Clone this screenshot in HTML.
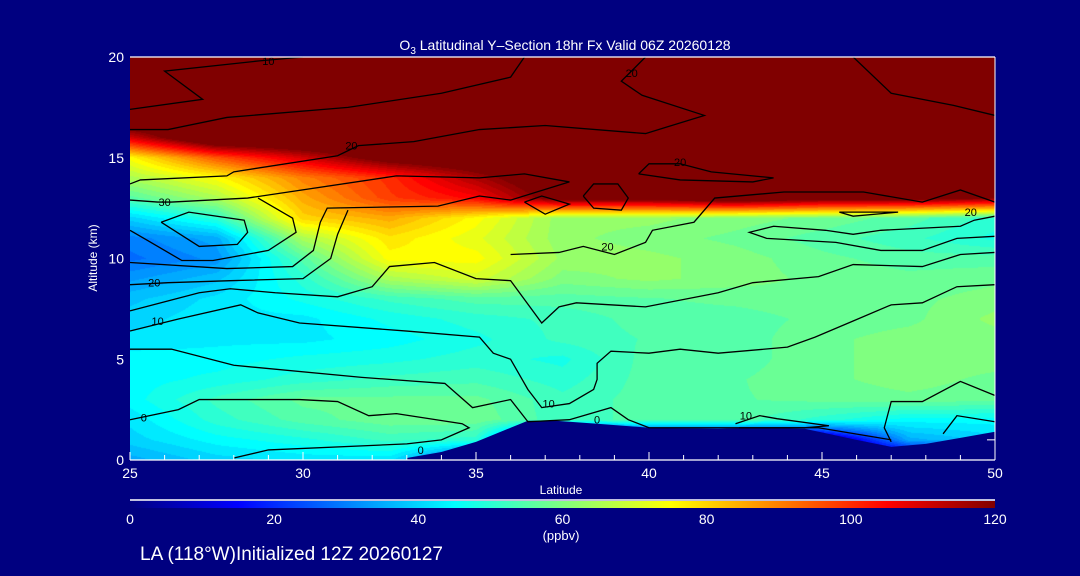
<!DOCTYPE html>
<html><head><meta charset="utf-8"><style>
html,body{margin:0;padding:0;background:#000080;}
#wrap{position:relative;width:1080px;height:576px;background:#000080;overflow:hidden;font-family:"Liberation Sans",sans-serif;color:#fff;}
canvas{position:absolute;left:130px;top:57px;}
svg{position:absolute;left:0;top:0;}
</style></head><body>
<div id="wrap">
<canvas id="field" width="865" height="403"></canvas>
<svg id="ov" width="1080" height="576">
<defs><linearGradient id="jet" x1="0" x2="1" y1="0" y2="0">
<stop offset="0" stop-color="#000080"/><stop offset="0.125" stop-color="#0000ff"/><stop offset="0.375" stop-color="#00ffff"/><stop offset="0.625" stop-color="#ffff00"/><stop offset="0.875" stop-color="#ff0000"/><stop offset="1" stop-color="#800000"/></linearGradient></defs>
<g id="terrain"></g>
<g id="contours"></g>
<g id="clabels" font-size="11" fill="#000"></g>
<g id="axes"></g>
<text x="565" y="50" text-anchor="middle" font-size="14" fill="#fff">O<tspan font-size="10" dy="4">3</tspan><tspan dy="-4"> Latitudinal Y–Section 18hr  Fx Valid 06Z 20260128</tspan></text>
<text x="561" y="494" text-anchor="middle" font-size="12" fill="#fff">Latitude</text>
<text transform="translate(97,258) rotate(-90)" text-anchor="middle" font-size="12" fill="#fff">Altitude (km)</text>
<line x1="130" y1="500" x2="995" y2="500" stroke="#fff" stroke-width="1.5"/>
<rect x="130" y="501" width="865" height="7" fill="url(#jet)"/>
<g id="cbticks" font-size="14" fill="#fff"></g>
<text x="561" y="540" text-anchor="middle" font-size="13" fill="#fff">(ppbv)</text>
<text x="140" y="560" font-size="19" fill="#fff">LA (118°W)Initialized 12Z 20260127</text>
</svg>
</div>
<script>
const lats=[25,27.5,30,32.5,35,37.5,40,42.5,45,47.5,50];
const alts=[0,1,2,3,4,5,6,7,8,9,10,11,12,13,14,15,16,17,18,19,20];
const row0=[35,40,42,42,20,0,0,0,0,0,0];
const row1=[40,45,48,52,50,0,0,0,0,35,40];
const row2=[42,50,55,58,58,52,55,55,50,45,45];
const row3=[45,52,57,57,57,52,55,56,57,58,57];
const row4=[45,47,50,52,53,50,55,56,58,60,58];
const row5=[45,45,47,48,50,48,55,55,58,60,60];
const row6=[42,43,43,45,48,52,54,55,58,60,60];
const row7=[40,43,43,47,50,52,55,55,57,58,62];
const row8=[38,42,47,52,55,55,56,57,58,58,60];
const row9=[33,38,50,65,70,60,62,60,58,57,58];
const row10=[28,32,55,75,75,63,62,60,57,55,55];
const row11=[30,35,65,78,72,62,60,58,55,52,48];
const row12=[40,50,80,85,75,62,62,60,58,55,50];
const row13=[55,65,85,98,105,125,125,130,125,125,120];
const row14=[65,75,90,100,115,130,130,135,135,135,135];
const row15=[75,95,110,125,130,135,135,135,135,135,135];
const row16=[110,135,135,135,135,135,135,135,135,135,135];
const row17=[135,135,135,135,135,135,135,135,135,135,135];
const row18=[140,140,140,140,140,140,140,140,140,140,140];
const row19=[140,140,140,140,140,140,140,140,140,140,140];
const row20=[140,140,140,140,140,140,140,140,140,140,140];
const grid=[row0,row1,row2,row3,row4,row5,row6,row7,row8,row9,row10,row11,row12,row13,row14,row15,row16,row17,row18,row19,row20];
const terrainLat=[33,34,35,36,36.5,37.3,38.5,40,42,43,44.5,46,47,48,49,50];
const terrainAlt=[0.1,0.4,0.9,1.6,1.95,1.95,1.8,1.6,1.55,1.6,1.55,1.0,0.65,0.8,1.1,1.4];
const xTicks=[25,30,35,40,45,50];
const yTicks=[0,5,10,15,20];
const cbTicks=[0,20,40,60,80,100,120];
const contourSet=[
[[25,17.4],[27.1,17.9],[26,19.3],[28.7,19.8],[30,20]],
[[25,16.4],[26.1,16.4],[27.8,17],[31.3,17.5],[34,18.2],[36,19],[36.4,20]],
[[25,13.7],[25.3,13.9],[27.8,14.1],[28,14.3],[31,15.1],[31.6,15.6],[33.2,15.8],[35.1,16.4],[37,16.6],[39.9,16.2],[41.6,17.1],[39.8,18.1],[39.2,18.8],[39.9,20]],
[[45.9,20],[47,18.2],[48.8,17.6],[50,17.1]],
[[25,12.9],[25.8,12.8],[26.2,12.8],[28.4,13],[32.7,14.1],[35.1,14],[36.4,14.2],[37.7,13.8],[36,12.9],[35.1,13.1],[33.9,12.6],[30.7,12.5],[30.5,11.8],[30.3,10.4],[29.7,9.6],[27.8,9.5],[25,9.8]],
[[25.9,11.8],[26.7,12.3],[28.3,11.9],[28.4,11.3],[28.1,10.7],[27,10.6],[25.9,11.8]],
[[25,11.4],[25.5,10.9],[26.5,9.9],[27.4,9.9],[29,10.4],[29.8,11.3],[29.7,12],[28.7,13]],
[[25,8.7],[26.1,8.8],[27.9,8.9],[30,9],[30.8,10],[31,11.2],[31.3,12.4]],
[[25,7.4],[27,8.3],[27.9,8.5],[29.2,8.3],[31,8.1],[32,8.6],[32.5,9.6],[33.8,9.8],[35,9],[36,8.9],[36.9,6.8],[37.4,7.6],[37.9,7.8],[39.9,7.6],[42,8.3],[43,8.8],[44.9,9.1],[45.9,9.7],[47.9,9.6],[49,10.2],[50,10.3]],
[[36,10.2],[37.4,10.3],[38.1,10.6],[39,10.2],[39.9,10.8],[40.1,11.4],[41.3,11.8],[41.9,13],[43.9,13.3],[46.2,13.3],[47.9,12.8],[49,13.4],[50,12.8]],
[[25,6.4],[26.4,7],[28.2,7.7],[28.7,7.3],[29.9,6.8],[33,6.4],[35.1,6.1],[35.5,5.3],[36,5],[36.5,3.5],[36.9,2.6],[37.7,2.8],[38.4,3.5],[38.5,4],[38.5,4.8],[38.9,5.4],[40,5.3],[40.9,5.5],[42,5.3],[44,5.6],[44.8,6.1],[45.9,6.9],[47,7.7],[47.9,7.8],[48.9,8.6],[50,8.7]],
[[25,5.5],[26.2,5.5],[28,4.7],[31.7,4.1],[34.1,3.8],[34.9,2.6],[36,3],[36.5,1.9],[37.7,2],[38.9,2.6],[39.4,2],[40,1.6],[42.9,1.6],[44.9,1.6],[47,1]],
[[25,2],[26.4,2.5],[27,3],[27.9,3],[29.9,3],[31,2.9],[31.9,2.2],[32.7,2.3],[34.6,1.8],[34.8,1.6],[34,1],[33,0.8],[29,0.5],[28,0.1]],
[[47,0.9],[46.8,1.6],[47,2.9],[47.9,2.9],[49,3.9],[50,3.2]],
[[48.5,1.3],[48.9,2.2],[50,1.9]],
[[38.1,13.1],[38.4,13.7],[39.1,13.7],[39.4,13],[39.2,12.4],[38.4,12.5],[38.1,13.1]],
[[36.4,12.8],[36.9,13.1],[37.7,12.7],[37,12.2],[36.4,12.8]],
[[39.7,14.2],[40,14.7],[40.9,14.7],[41.8,14.3],[43.6,14],[43,13.8],[40.9,13.9],[39.7,14.2]],
[[45.5,12.3],[47.2,12.3],[45.9,12.1],[45.5,12.3]],
[[50,11.1],[48.9,11],[47.9,10.4],[46.7,10.4],[45.4,10.8],[43.4,11],[42.9,11.3],[43.6,11.6],[45.1,11.4],[45.9,11.2],[46.7,11.4],[49,11.6],[49.4,11.9],[50,12.1]],
[[42.5,1.8],[43.2,2.2],[43.7,2.05],[45.2,1.7],[44.5,1.6],[42.6,1.6]]
];
const labelText=["10","20","20","20","30","20","10","0","0","10","0","10","20","20"];
const labelLat=[29.0,39.5,31.4,40.9,26.0,25.7,25.8,25.4,33.4,37.1,38.5,42.8,38.8,49.3];
const labelAlt=[19.8,19.2,15.6,14.8,12.8,8.8,6.9,2.1,0.5,2.8,2.0,2.2,10.6,12.3];
const rightTickAlt=[1.0];

const X=lat=>130+(lat-25)*34.6;
const Y=alt=>460-alt*20.15;
const NS='http://www.w3.org/2000/svg';
function jet(v){let t=Math.max(0,Math.min(1,v/120));const c=x=>Math.round(255*Math.max(0,Math.min(1,1.5-Math.abs(x))));return [c(4*t-3),c(4*t-2),c(4*t-1)];}
(function(){
const cv=document.getElementById('field');const ctx=cv.getContext('2d');
const W=cv.width,H=cv.height;const img=ctx.createImageData(W,H);
for(let py=0;py<H;py++){
 const alt=(460-(57+py+0.5))/20.15;
 let fa=Math.max(0,Math.min(alts.length-1.0001,(alt-alts[0])/(alts[1]-alts[0])));const ia=Math.floor(fa),ta=fa-ia;
 for(let px=0;px<W;px++){
  const lat=25+(px+0.5)/34.6;
  let fl=Math.max(0,Math.min(lats.length-1.0001,(lat-lats[0])/(lats[1]-lats[0])));const il=Math.floor(fl),tl=fl-il;
  const v=(grid[ia][il]*(1-tl)+grid[ia][il+1]*tl)*(1-ta)+(grid[ia+1][il]*(1-tl)+grid[ia+1][il+1]*tl)*ta;
  const q=Math.round(v/2.5)*2.5;const c=jet(q);const k=(py*W+px)*4;
  img.data[k]=c[0];img.data[k+1]=c[1];img.data[k+2]=c[2];img.data[k+3]=255;}}
ctx.putImageData(img,0,0);})();
(function(){
let d='M'+X(terrainLat[0])+','+Y(0);
terrainLat.forEach((l,i)=>{d+=' L'+X(l)+','+Y(terrainAlt[i]);});
d+=' L'+X(50)+','+Y(0)+' Z';
const p=document.createElementNS(NS,'path');


p.setAttribute('d',d);p.setAttribute('fill','#000080');
document.getElementById('terrain').appendChild(p);})();
contourSet.forEach((line,i)=>{
const p=document.createElementNS(NS,'polyline');


p.setAttribute('points',line.map(q=>X(q[0])+','+Y(q[1])).join(' '));
p.setAttribute('fill','none');p.setAttribute('stroke','#000');p.setAttribute('stroke-width','1.3');
document.getElementById('contours').appendChild(p);});
labelText.forEach((t,i)=>{
const e=document.createElementNS(NS,'text');


e.setAttribute('x',X(labelLat[i]));e.setAttribute('y',Y(labelAlt[i])+4);e.setAttribute('text-anchor','middle');
e.textContent=t;document.getElementById('clabels').appendChild(e);});
(function(){
const g=document.getElementById('axes');
const top=document.createElementNS(NS,'line');


top.setAttribute('x1',X(25));top.setAttribute('x2',X(50));top.setAttribute('y1',Y(20));top.setAttribute('y2',Y(20));top.setAttribute('stroke','#fff');top.setAttribute('stroke-width','1.2');g.appendChild(top);
const bot=document.createElementNS(NS,'line');


bot.setAttribute('x1',X(25));bot.setAttribute('x2',X(50));bot.setAttribute('y1',Y(0));bot.setAttribute('y2',Y(0));bot.setAttribute('stroke','#fff');bot.setAttribute('stroke-width','1.2');g.appendChild(bot);
const rt=document.createElementNS(NS,'line');


rt.setAttribute('x1',X(50));rt.setAttribute('x2',X(50));rt.setAttribute('y1',Y(20));rt.setAttribute('y2',Y(0));rt.setAttribute('stroke','#fff');rt.setAttribute('stroke-width','1');g.appendChild(rt);
for(let l=25;l<=50;l++){const major=(l%5===0);
 const t=document.createElementNS(NS,'line');
 
 
 t.setAttribute('x1',X(l));t.setAttribute('x2',X(l));t.setAttribute('y1',Y(0));t.setAttribute('y2',Y(0)-(major?8:5));t.setAttribute('stroke','#fff');g.appendChild(t);}
rightTickAlt.forEach(a=>{
 const t=document.createElementNS(NS,'line');
 
 
 t.setAttribute('x1',X(50));t.setAttribute('x2',X(50)-8);t.setAttribute('y1',Y(a));t.setAttribute('y2',Y(a));t.setAttribute('stroke','#fff');g.appendChild(t);});
xTicks.forEach(v=>{const e=document.createElementNS(NS,'text');
 
 
 e.setAttribute('x',X(v));e.setAttribute('y',478);e.setAttribute('text-anchor','middle');e.setAttribute('font-size','14');e.setAttribute('fill','#fff');e.textContent=v;g.appendChild(e);});
yTicks.forEach(v=>{const e=document.createElementNS(NS,'text');
 
 
 e.setAttribute('x',124);e.setAttribute('y',Y(v)+5);e.setAttribute('text-anchor','end');e.setAttribute('font-size','14');e.setAttribute('fill','#fff');e.textContent=v;g.appendChild(e);});
cbTicks.forEach(v=>{const e=document.createElementNS(NS,'text');
 
 
 e.setAttribute('x',130+v/120*865);e.setAttribute('y',524);e.setAttribute('text-anchor','middle');e.setAttribute('fill','#fff');e.textContent=v;document.getElementById('cbticks').appendChild(e);});
})();
</script>
</body></html>
